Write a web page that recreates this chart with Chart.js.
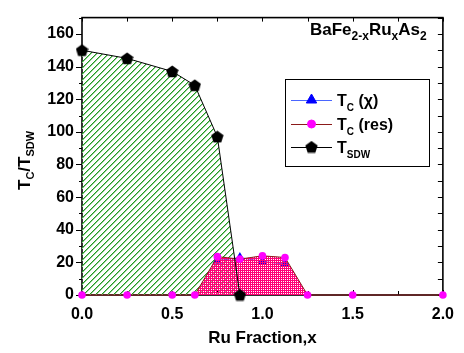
<!DOCTYPE html>
<html lang="en">
<head>
    <meta charset="UTF-8">
    <title>BaFe2-xRuxAs2 phase diagram</title>
    <script src="https://cdn.jsdelivr.net/npm/chart.js"></script>
    <style>
        body { margin: 0; background: #fff; }
    </style>
</head>
<body>
    <canvas id="phase-chart" width="464" height="353"></canvas>
    <script>
        // Ru fraction x and transition temperatures (K)
        const xRes = [0, 0.25, 0.5, 0.625, 0.75, 0.875, 1.0, 1.125, 1.25, 1.5, 2.0];
        const tcRes = [0, 0, 0, 0, 23.5, 22, 24, 23, 0, 0, 0];

        const xChi = [0.75, 0.875, 1.0, 1.125];
        const tcChi = [21, 23, 20.5, 19];

        const xSdw = [0, 0.25, 0.5, 0.625, 0.75, 0.875];
        const tSdw = [150, 145, 137, 128.5, 97, 0];

        const xTicks = [0, 0.5, 1.0, 1.5, 2.0];
        const yTicks = [0, 20, 40, 60, 80, 100, 120, 140, 160];

        const FAMILY = "'Liberation Sans', Arial, sans-serif";

        function pairs(xs, ys) {
            return xs.map((x, i) => ({ x: x, y: ys[i] }));
        }

        // green diagonal hatch for the SDW region, drawn pixel by pixel so it stays crisp
        function hatchPattern() {
            const c = document.createElement('canvas');
            c.width = 6; c.height = 6;
            const g = c.getContext('2d');
            for (let i = 0; i < 6; i++) {
                g.fillStyle = '#229922';
                g.fillRect(i, 5 - i, 1, 1);
                g.fillStyle = '#8fcf8f';
                g.fillRect(i, (6 - i) % 6, 1, 1);
            }
            return g.createPattern(c, 'repeat');
        }

        // pink checker for the superconducting dome
        function checkerPattern() {
            const c = document.createElement('canvas');
            c.width = 2; c.height = 2;
            const g = c.getContext('2d');
            g.fillStyle = '#ff0077';
            g.fillRect(0, 0, 2, 2);
            g.clearRect(1, 1, 1, 1);
            return g.createPattern(c, 'repeat');
        }

        function pentagon(size, color) {
            const c = document.createElement('canvas');
            c.width = size; c.height = size;
            const g = c.getContext('2d');
            const r = size / 2;
            g.fillStyle = color;
            g.beginPath();
            for (let i = 0; i < 5; i++) {
                const a = -Math.PI / 2 + i * 2 * Math.PI / 5;
                g.lineTo(r + r * Math.cos(a), r + 0.6 + r * Math.sin(a));
            }
            g.closePath();
            g.fill();
            return c;
        }

        const pentaMark = pentagon(13, '#000');

        // draws text runs with sub/normal pieces: [text, size, dy]
        function richText(ctx, parts, x, y) {
            let cx = x;
            parts.forEach(([t, size, dy]) => {
                ctx.font = 'bold ' + size + 'px ' + FAMILY;
                ctx.fillText(t, cx, y + dy);
                cx += ctx.measureText(t).width;
            });
        }

        const framePlugin = {
            id: 'frame',
            beforeDatasetsDraw(chart) {
                const { ctx, chartArea: a, scales: { x, y } } = chart;
                ctx.save();
                ctx.strokeStyle = '#000';
                ctx.lineWidth = 1;
                // bottom & top ticks (inside)
                for (let v = 0; v <= 2.0001; v += 0.25) {
                    const px = Math.round(x.getPixelForValue(v)) + 0.5;
                    const major = Math.abs(v * 2 - Math.round(v * 2)) < 1e-6;
                    ctx.beginPath();
                    ctx.moveTo(px, a.bottom); ctx.lineTo(px, a.bottom - (major ? 5 : 4));
                    ctx.moveTo(px, a.top); ctx.lineTo(px, a.top + 4);
                    ctx.stroke();
                }
                // left ticks (outside) and right ticks (inside)
                for (let v = 0; v <= 170; v += 10) {
                    const py = Math.round(y.getPixelForValue(v)) + 0.5;
                    const major = v % 20 === 0;
                    ctx.beginPath();
                    ctx.moveTo(a.left, py); ctx.lineTo(a.left - (major ? 6 : 3), py);
                    ctx.moveTo(a.right, py); ctx.lineTo(a.right - 5, py);
                    ctx.stroke();
                }
                ctx.lineWidth = 1.6;
                ctx.strokeRect(a.left, a.top, a.right - a.left, a.bottom - a.top);
                ctx.restore();
            },
            afterDraw(chart) {
                const { ctx, chartArea: a } = chart;
                ctx.save();
                ctx.fillStyle = '#000';
                ctx.textBaseline = 'alphabetic';

                // x title
                ctx.font = 'bold 17px ' + FAMILY;
                ctx.textAlign = 'center';
                ctx.fillText('Ru Fraction,x', (a.left + a.right) / 2, 343);
                ctx.textAlign = 'left';

                // y title, rotated
                ctx.save();
                ctx.translate(30, 190);
                ctx.rotate(-Math.PI / 2);
                richText(ctx, [['T', 17, 0], ['C', 11, 4], ['/T', 17, 0], ['SDW', 11, 4]], 0, 0);
                ctx.restore();

                // compound label
                richText(ctx, [['BaFe', 17, 0], ['2-x', 12, 5], ['Ru', 17, 0], ['x', 12, 5], ['As', 17, 0], ['2', 12, 5]], 310, 35);

                // legend
                const bx = 285, by = 79, bw = 144, bh = 87;
                ctx.fillStyle = '#fff';
                ctx.fillRect(bx, by, bw, bh);
                ctx.strokeStyle = '#000';
                ctx.lineWidth = 1;
                ctx.strokeRect(bx + 0.5, by + 0.5, bw, bh);

                const rows = [
                    { y: 100, line: '#4a66ff', fill: '#0000ff', style: 'triangle', r: 6, label: [['T', 16, 0], ['C', 10, 5], [' (\u03c7)', 16, 0]] },
                    { y: 124, line: '#8b1a1a', fill: '#ff00ff', style: 'circle', r: 4, label: [['T', 16, 0], ['C', 10, 5], [' (res)', 16, 0]] },
                    { y: 147, line: '#000', fill: '#000', style: pentaMark, r: 6, label: [['T', 16, 0], ['SDW', 10, 5]] }
                ];
                rows.forEach(row => {
                    ctx.strokeStyle = row.line;
                    ctx.lineWidth = 1;
                    ctx.beginPath();
                    ctx.moveTo(291, row.y + 0.5); ctx.lineTo(332, row.y + 0.5);
                    ctx.stroke();
                    ctx.fillStyle = row.fill;
                    ctx.strokeStyle = row.fill;
                    Chart.helpers.drawPoint(ctx, { pointStyle: row.style, radius: row.r, rotation: 0, borderWidth: 1 }, 311.5, row.y);
                    ctx.fillStyle = '#000';
                    richText(ctx, row.label, 337, row.y + 6);
                });
                ctx.restore();
            }
        };

        const ctx = document.getElementById('phase-chart').getContext('2d');

        new Chart(ctx, {
            type: 'line',
            data: {
                datasets: [
                    {
                        label: 'T_SDW',
                        data: pairs(xSdw, tSdw),
                        borderColor: '#000',
                        borderWidth: 1,
                        pointStyle: pentaMark,
                        pointRadius: 6,
                        fill: false,
                        clip: false,
                        order: 0
                    },
                    {
                        label: 'T_C (res)',
                        data: pairs(xRes, tcRes),
                        borderColor: '#8b1a1a',
                        borderWidth: 1,
                        backgroundColor: checkerPattern(),
                        pointStyle: 'circle',
                        pointRadius: 3.8,
                        pointBackgroundColor: '#ff00ff',
                        pointBorderColor: '#ff00ff',
                        pointBorderWidth: 0,
                        fill: 'origin',
                        clip: false,
                        order: 1
                    },
                    {
                        label: 'T_C (chi)',
                        data: pairs(xChi, tcChi),
                        borderColor: '#4a66ff',
                        borderWidth: 1,
                        pointStyle: 'triangle',
                        pointRadius: 5.5,
                        pointBackgroundColor: '#0000ff',
                        pointBorderColor: '#0000ff',
                        pointBorderWidth: 0,
                        fill: false,
                        clip: false,
                        order: 2
                    },
                    {
                        // hatched SDW area, drawn underneath everything
                        label: 'SDW area',
                        data: pairs(xSdw, tSdw),
                        borderWidth: 0,
                        borderColor: 'rgba(0,0,0,0)',
                        backgroundColor: hatchPattern(),
                        pointRadius: 0,
                        fill: 'origin',
                        order: 3
                    }
                ]
            },
            options: {
                responsive: false,
                animation: false,
                events: [],
                layout: { padding: { left: 0, right: 16, top: 5, bottom: 0 } },
                plugins: {
                    legend: { display: false },
                    tooltip: { enabled: false },
                    filler: { drawTime: 'beforeDatasetDraw' }
                },
                scales: {
                    x: {
                        type: 'linear',
                        min: 0,
                        max: 2,
                        grid: { display: false, drawTicks: false },
                        border: { display: false },
                        afterBuildTicks: s => { s.ticks = xTicks.map(v => ({ value: v })); },
                        afterFit: s => { s.height = 58; },
                        ticks: {
                            color: '#000',
                            padding: 10,
                            maxRotation: 0,
                            font: { family: FAMILY, size: 16, weight: 'bold' },
                            callback: v => Number(v).toFixed(1)
                        }
                    },
                    y: {
                        type: 'linear',
                        min: 0,
                        max: 170,
                        grid: { display: false, drawTicks: false },
                        border: { display: false },
                        afterBuildTicks: s => { s.ticks = yTicks.map(v => ({ value: v })); },
                        afterFit: s => { s.width = 82; },
                        ticks: {
                            color: '#000',
                            padding: 8,
                            font: { family: FAMILY, size: 16, weight: 'bold' },
                            callback: v => String(v)
                        }
                    }
                }
            },
            plugins: [framePlugin]
        });
    </script>
</body>
</html>
